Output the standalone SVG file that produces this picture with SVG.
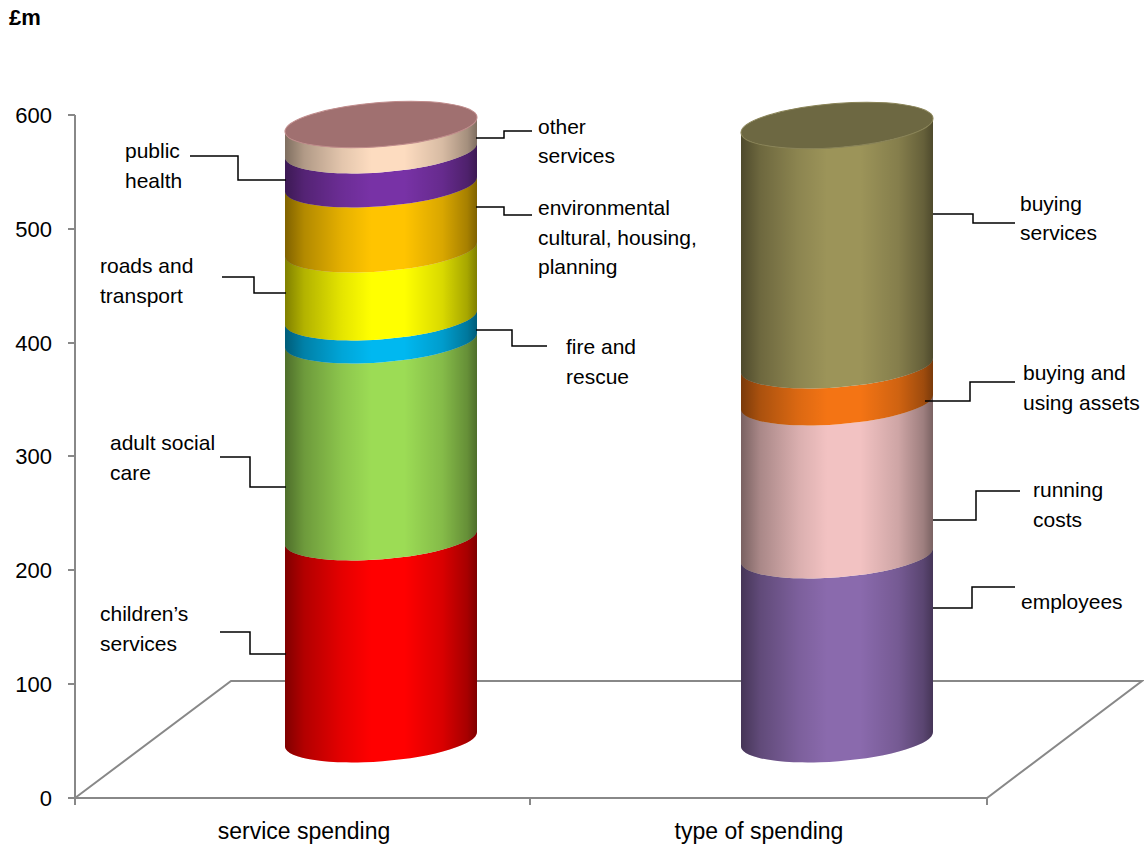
<svg xmlns="http://www.w3.org/2000/svg" width="1144" height="845" viewBox="0 0 1144 845">
<defs>
<style>
.ax{stroke:#888;stroke-width:2;fill:none}
.ld{stroke:#000;stroke-width:1.5;fill:none}
.lb{font-family:"Liberation Sans",Arial,sans-serif;font-size:21px;fill:#000}
.tk{font-family:"Liberation Sans",Arial,sans-serif;font-size:22px;fill:#000;text-anchor:end}
.cat{font-family:"Liberation Sans",Arial,sans-serif;font-size:23px;fill:#000;text-anchor:middle}
</style>
<linearGradient id="shade" x1="0" y1="0" x2="1" y2="0">
<stop offset="0" stop-color="#000" stop-opacity="0.5"/>
<stop offset="0.1" stop-color="#000" stop-opacity="0.3"/>
<stop offset="0.3" stop-color="#000" stop-opacity="0.1"/>
<stop offset="0.45" stop-color="#000" stop-opacity="0"/>
<stop offset="0.62" stop-color="#000" stop-opacity="0"/>
<stop offset="0.82" stop-color="#000" stop-opacity="0.15"/>
<stop offset="0.95" stop-color="#000" stop-opacity="0.35"/>
<stop offset="1" stop-color="#000" stop-opacity="0.5"/>
</linearGradient>
</defs>
<rect width="1144" height="845" fill="#fff"/>

<g id="axes">
<path class="ax" d="M75,115 V798 M68,115 H75 M68,229 H75 M68,343 H75 M68,456 H75 M68,570 H75 M68,684 H75 M68,798 H75"/>
<path class="ax" d="M75,798 L231,681 H1142 L987,798 Z M75,798 V805 M530,798 V805 M987,798 V805"/>
<text class="tk" x="52" y="123">600</text>
<text class="tk" x="52" y="237">500</text>
<text class="tk" x="52" y="351">400</text>
<text class="tk" x="52" y="464">300</text>
<text class="tk" x="52" y="578">200</text>
<text class="tk" x="52" y="692">100</text>
<text class="tk" x="52" y="806">0</text>
<text x="9" y="25" style="font-family:'Liberation Sans',Arial,sans-serif;font-size:22px;font-weight:bold">£m</text>
<text class="cat" x="304" y="839">service spending</text>
<text class="cat" x="759" y="839">type of spending</text>
</g>

<g id="service-cylinder">
<path fill="#ff0000" d="M285,545 A96.3,22 -4.47 0 0 477,530 L477,732 A96.3,22 -4.47 0 1 285,747 Z"/>
<path fill="#9cdc55" d="M285,348 A96.3,22 -4.47 0 0 477,333 L477,530 A96.3,22 -4.47 0 1 285,545 Z"/>
<path fill="#00b8f0" d="M285,325 A96.3,22 -4.47 0 0 477,310 L477,333 A96.3,22 -4.47 0 1 285,348 Z"/>
<path fill="#ffff00" d="M285,257 A96.3,22 -4.47 0 0 477,242 L477,310 A96.3,22 -4.47 0 1 285,325 Z"/>
<path fill="#ffc400" d="M285,192 A96.3,22 -4.47 0 0 477,177 L477,242 A96.3,22 -4.47 0 1 285,257 Z"/>
<path fill="#7832a6" d="M285,158 A96.3,22 -4.47 0 0 477,143 L477,177 A96.3,22 -4.47 0 1 285,192 Z"/>
<path fill="#fddcc0" d="M285,132 A96.3,22 -4.47 0 0 477,117 L477,143 A96.3,22 -4.47 0 1 285,158 Z"/>
<path fill="url(#shade)" d="M285,132 A96.3,22 -4.47 0 0 477,117 L477,732 A96.3,22 -4.47 0 1 285,747 Z"/>
<ellipse cx="381" cy="124.5" rx="96.3" ry="22" transform="rotate(-4.47 381 124.5)" fill="#a07070" stroke="#c08c8c" stroke-width="1"/>
</g>

<g id="type-cylinder">
<path fill="#8a6aad" d="M741,563 A96.3,22 -4.47 0 0 933,548 L933,732 A96.3,22 -4.47 0 1 741,747 Z"/>
<path fill="#f2c2c2" d="M741,410 A96.3,22 -4.47 0 0 933,395 L933,548 A96.3,22 -4.47 0 1 741,563 Z"/>
<path fill="#f47414" d="M741,373 A96.3,22 -4.47 0 0 933,358 L933,395 A96.3,22 -4.47 0 1 741,410 Z"/>
<path fill="#9c9459" d="M741,133 A96.3,22 -4.47 0 0 933,118 L933,358 A96.3,22 -4.47 0 1 741,373 Z"/>
<path fill="url(#shade)" d="M741,133 A96.3,22 -4.47 0 0 933,118 L933,732 A96.3,22 -4.47 0 1 741,747 Z"/>
<ellipse cx="837" cy="125.5" rx="96.3" ry="22" transform="rotate(-4.47 837 125.5)" fill="#6d6842" stroke="#8a8458" stroke-width="1"/>
</g>

<g id="connectors">
<polyline class="ld" points="190,156 238,156 238,180 286,180"/>
<polyline class="ld" points="222,277 254,277 254,293 286,293"/>
<polyline class="ld" points="220,457 250,457 250,487 286,487"/>
<polyline class="ld" points="220,632 250,632 250,654 286,654"/>
<polyline class="ld" points="476,138 504,138 504,131 532,131"/>
<polyline class="ld" points="476,207 504,207 504,215 532,215"/>
<polyline class="ld" points="476,330 512,330 512,346 547,346"/>
<polyline class="ld" points="933,214 973,214 973,223 1015,223"/>
<polyline class="ld" points="925,401 970,401 970,382 1015,382"/>
<polyline class="ld" points="933,520 976,520 976,491 1020,491"/>
<polyline class="ld" points="933,608 972,608 972,587 1015,587"/>
</g>

<g id="label-public-health"><text class="lb" x="125" y="158">public</text><text class="lb" x="125" y="188">health</text></g>
<g id="label-roads"><text class="lb" x="100" y="273">roads and</text><text class="lb" x="100" y="303">transport</text></g>
<g id="label-adult"><text class="lb" x="110" y="450">adult social</text><text class="lb" x="110" y="480">care</text></g>
<g id="label-children"><text class="lb" x="100" y="621">children’s</text><text class="lb" x="100" y="651">services</text></g>
<g id="label-other"><text class="lb" x="538" y="134">other</text><text class="lb" x="538" y="163">services</text></g>
<g id="label-environmental"><text class="lb" x="538" y="215">environmental</text><text class="lb" x="538" y="245">cultural, housing,</text><text class="lb" x="538" y="274">planning</text></g>
<g id="label-fire"><text class="lb" x="566" y="354">fire and</text><text class="lb" x="566" y="384">rescue</text></g>
<g id="label-buying-services"><text class="lb" x="1020" y="211">buying</text><text class="lb" x="1020" y="240">services</text></g>
<g id="label-assets"><text class="lb" x="1023" y="380">buying and</text><text class="lb" x="1023" y="410">using assets</text></g>
<g id="label-running"><text class="lb" x="1033" y="497">running</text><text class="lb" x="1033" y="527">costs</text></g>
<g id="label-employees"><text class="lb" x="1021" y="609">employees</text></g>
</svg>
